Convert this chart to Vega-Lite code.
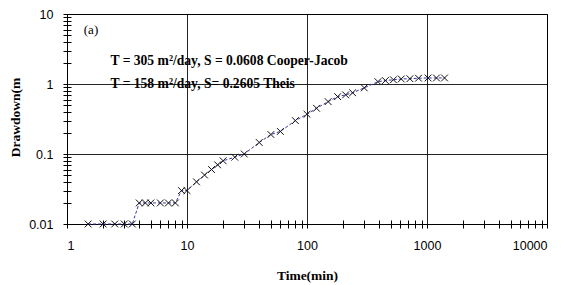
{
  "$schema": "https://vega.github.io/schema/vega-lite/v6.json",
  "width": 480,
  "height": 210,
  "autosize": {"type": "none"},
  "padding": {"left": 67, "top": 14, "right": 20, "bottom": 61},
  "background": "white",
  "config": {
    "view": {"stroke": "#000", "strokeWidth": 1},
    "axis": {
      "labelFont": "Liberation Sans",
      "labelFontSize": 12.5,
      "labelColor": "#000",
      "titleFont": "Liberation Serif",
      "titleFontWeight": "bold",
      "titleFontSize": 13.5,
      "titleColor": "#000",
      "domainColor": "#000",
      "tickColor": "#000",
      "gridColor": "#000",
      "gridOpacity": 0.85
    }
  },
  "datasets": {
    "pts": [
      {"t": 1.5, "s": 0.01}, {"t": 2, "s": 0.01}, {"t": 2.5, "s": 0.01}, {"t": 3, "s": 0.01}, {"t": 3.5, "s": 0.01},
      {"t": 4, "s": 0.02}, {"t": 4.5, "s": 0.02}, {"t": 5, "s": 0.02}, {"t": 6, "s": 0.02}, {"t": 7, "s": 0.02}, {"t": 8, "s": 0.02},
      {"t": 9, "s": 0.03}, {"t": 10, "s": 0.03}, {"t": 12, "s": 0.04}, {"t": 14, "s": 0.05}, {"t": 16, "s": 0.06},
      {"t": 18, "s": 0.07}, {"t": 20, "s": 0.08}, {"t": 25, "s": 0.09}, {"t": 30, "s": 0.1},
      {"t": 40, "s": 0.146}, {"t": 50, "s": 0.19}, {"t": 60, "s": 0.21}, {"t": 80, "s": 0.3}, {"t": 100, "s": 0.37},
      {"t": 120, "s": 0.45}, {"t": 150, "s": 0.56}, {"t": 180, "s": 0.66}, {"t": 210, "s": 0.7}, {"t": 240, "s": 0.75},
      {"t": 300, "s": 0.88}, {"t": 390, "s": 1.08}, {"t": 450, "s": 1.12}, {"t": 525, "s": 1.15}, {"t": 610, "s": 1.18},
      {"t": 720, "s": 1.19}, {"t": 850, "s": 1.21}, {"t": 1020, "s": 1.22}, {"t": 1200, "s": 1.22}, {"t": 1400, "s": 1.22}
    ],
    "tag": [
      {"t": 1.38, "s": 5.97, "label": "(a)"}
    ],
    "notes": [
      {"t": 2.3, "s": 2.1, "label": "T = 305 m²/day, S = 0.0608 Cooper-Jacob"},
      {"t": 2.3, "s": 1.0, "label": "T = 158 m²/day, S= 0.2605 Theis"}
    ]
  },
  "resolve": {"axis": {"x": "independent", "y": "independent"}},
  "layer": [
    {
      "data": {"name": "pts"},
      "mark": {"type": "line", "color": "#3535a8", "strokeWidth": 1, "strokeDash": [3, 2]},
      "encoding": {
        "x": {"field": "t", "type": "quantitative",
          "scale": {"type": "log", "domain": [1, 10000], "nice": false},
          "axis": {"orient": "bottom", "values": [1, 10, 100, 1000, 10000], "format": "~g", "grid": true, "tickSize": 4,
            "labelPadding": 11, "title": "Time(min)", "titleY": 51, "titleBaseline": "middle"}},
        "y": {"field": "s", "type": "quantitative",
          "scale": {"type": "log", "domain": [0.01, 10], "nice": false},
          "axis": {"orient": "left", "values": [0.01, 0.1, 1, 10], "format": "~g", "grid": true, "tickSize": 4,
            "labelPadding": 10, "title": "Drawdown(m", "titleX": -52, "titleY": 103, "titleAngle": -90, "titleBaseline": "middle"}}
      }
    },
    {
      "data": {"name": "pts"},
      "mark": {"type": "point", "shape": "M-1,-1L1,1M-1,1L1,-1", "size": 46, "filled": false, "stroke": "#111", "strokeWidth": 1, "opacity": 1},
      "encoding": {
        "x": {"field": "t", "type": "quantitative", "scale": {"type": "log", "domain": [1, 10000], "nice": false},
          "axis": {"orient": "bottom", "offset": -4, "tickSize": 8, "domain": false, "labels": false, "grid": false, "title": null,
            "values": [2, 3, 4, 5, 6, 7, 8, 9, 20, 30, 40, 50, 60, 70, 80, 90, 200, 300, 400, 500, 600, 700, 800, 900, 2000, 3000, 4000, 5000, 6000, 7000, 8000, 9000]}},
        "y": {"field": "s", "type": "quantitative", "scale": {"type": "log", "domain": [0.01, 10], "nice": false},
          "axis": {"orient": "left", "offset": -4, "tickSize": 8, "domain": false, "labels": false, "grid": false, "title": null,
            "values": [0.02, 0.03, 0.04, 0.05, 0.06, 0.07, 0.08, 0.09, 0.2, 0.3, 0.4, 0.5, 0.6, 0.7, 0.8, 0.9, 2, 3, 4, 5, 6, 7, 8, 9]}}
      }
    },
    {
      "data": {"name": "tag"},
      "mark": {"type": "text", "align": "left", "baseline": "middle", "font": "Liberation Serif", "fontWeight": "normal", "fontSize": 13, "color": "#000"},
      "encoding": {
        "x": {"field": "t", "type": "quantitative", "scale": {"type": "log", "domain": [1, 10000], "nice": false}, "axis": null},
        "y": {"field": "s", "type": "quantitative", "scale": {"type": "log", "domain": [0.01, 10], "nice": false}, "axis": null},
        "text": {"field": "label"}
      }
    },
    {
      "data": {"name": "notes"},
      "mark": {"type": "text", "align": "left", "baseline": "middle", "font": "Liberation Serif", "fontWeight": "bold", "fontSize": 13.6, "color": "#000"},
      "encoding": {
        "x": {"field": "t", "type": "quantitative", "scale": {"type": "log", "domain": [1, 10000], "nice": false}, "axis": null},
        "y": {"field": "s", "type": "quantitative", "scale": {"type": "log", "domain": [0.01, 10], "nice": false}, "axis": null},
        "text": {"field": "label"}
      }
    }
  ]
}
